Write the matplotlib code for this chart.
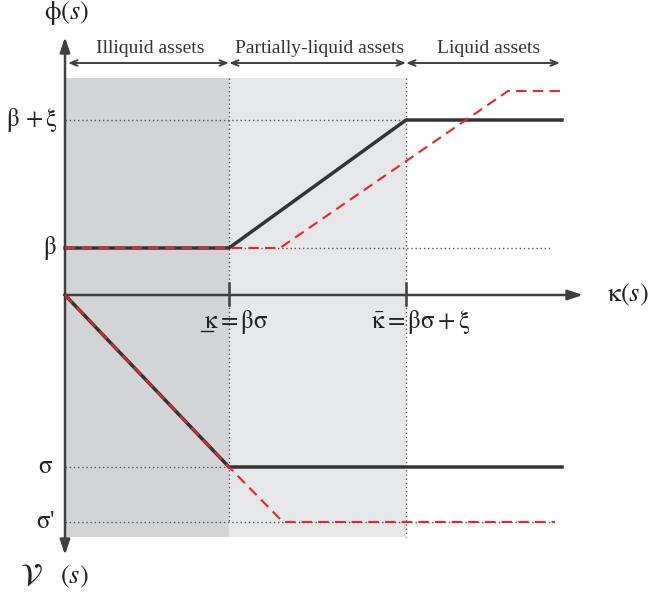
import matplotlib
matplotlib.use("Agg")
import matplotlib.pyplot as plt
from matplotlib.patches import Rectangle

plt.rcParams['font.family'] = ['Liberation Serif', 'DejaVu Serif']
plt.rcParams['mathtext.fontset'] = 'stix'

# Conceptual values (kappa on x, phi / V on y)
kappa_low = 1.64          # underline kappa = beta*sigma
kappa_high = 3.41         # overline kappa = beta*sigma + xi
x_end = 4.97
beta = 0.47
beta_xi = 1.75
sigma = -1.72
sigma_p = -2.27

# black (baseline) curves
phi_black_x = [0.0, kappa_low, kappa_high, x_end]
phi_black_y = [beta, beta, beta_xi, beta_xi]
v_black_x = [0.0, kappa_low, x_end]
v_black_y = [0.0, sigma, sigma]

# red (shifted) curves
phi_red_x = [0.0, 2.15, 4.43, 5.00]
phi_red_y = [beta, beta, 2.04, 2.04]
v_red_x = [0.0, kappa_low, 2.18, 4.90]
v_red_y = [0.0, sigma, sigma_p, sigma_p]

region_labels = ["Illiquid assets", "Partially-liquid assets", "Liquid assets"]

fig = plt.figure(figsize=(6.54, 5.95), dpi=100)
ax = fig.add_axes([0, 0, 1, 1])
ax.set_xlim(-0.65, 5.89)
ax.set_ylim(-3.00, 2.95)
ax.axis('off')

top, bot = 2.17, -2.42
ax.add_patch(Rectangle((0, bot), kappa_low, top - bot, color='#d3d4d6', lw=0, zorder=0))
ax.add_patch(Rectangle((kappa_low, bot), kappa_high - kappa_low, top - bot, color='#e6e7e9', lw=0, zorder=0))

dot = dict(color='#555555', lw=1.0, ls=(0, (1, 2)), zorder=1)
ax.plot([kappa_low, kappa_low], [top, sigma_p], **dot)
ax.plot([kappa_high, kappa_high], [top, bot], **dot)
ax.plot([0, x_end], [beta_xi, beta_xi], **dot)
ax.plot([0, 4.87], [beta, beta], **dot)
ax.plot([0, kappa_low], [sigma, sigma], **dot)
ax.plot([0, 4.90], [sigma_p, sigma_p], **dot)

axc = '#404040'
arrow = dict(arrowstyle='-|>,head_length=0.9,head_width=0.3', color=axc, lw=1.8, shrinkA=0, shrinkB=0)
ax.annotate('', xy=(5.18, 0), xytext=(0, 0), arrowprops=arrow, zorder=3)
ax.annotate('', xy=(0, 2.58), xytext=(0, 0), arrowprops=arrow, zorder=3)
ax.annotate('', xy=(0, -2.60), xytext=(0, 0), arrowprops=arrow, zorder=3)
for k in (kappa_low, kappa_high):
    ax.plot([k, k], [0.12, -0.10], color=axc, lw=1.8, zorder=3)

ax.plot(phi_black_x, phi_black_y, color='#333333', lw=2.5, zorder=4)
ax.plot(v_black_x, v_black_y, color='#333333', lw=2.5, zorder=4)
ax.plot(phi_red_x, phi_red_y, color='#e8262b', lw=1.5, ls=(0, (5, 3)), zorder=5)
ax.plot(v_red_x, v_red_y, color='#e8262b', lw=1.5, ls=(0, (5, 3)), zorder=5)

# region arrows
ya = 2.32
bounds = [(0.03, kappa_low), (kappa_low, kappa_high), (kappa_high, 4.95)]
offs = [0.02, 0.02, 0.06]
for (a, b), lab, o in zip(bounds, region_labels, offs):
    ax.annotate('', xy=(a, ya), xytext=(b, ya),
                arrowprops=dict(arrowstyle='<->,head_length=0.5,head_width=0.2', color=axc, lw=1.4,
                                shrinkA=0, shrinkB=0))
    ax.text((a + b) / 2 + o, ya + 0.06, lab, ha='center', va='bottom', fontsize=14, color='#333333')

tc = '#222222'
ax.text(-0.21, 2.82, r'$\mathrm{\phi}(s)$', fontsize=19, ha='left', va='center', color=tc)
ax.text(-0.07, beta_xi, r'$\mathrm{\beta}\,+\mathrm{\xi}$', fontsize=18, ha='right', va='center', color=tc)
ax.text(-0.08, beta, r'$\mathrm{\beta}$', fontsize=18, ha='right', va='center', color=tc)
ax.text(-0.12, sigma, r'$\mathrm{\sigma}$', fontsize=18, ha='right', va='center', color=tc)
ax.text(-0.10, sigma_p, r"$\mathrm{\sigma}$'", fontsize=18, ha='right', va='center', color=tc)
ax.text(5.42, 0.0, r'$\mathrm{\kappa}(s)$', fontsize=19, ha='left', va='center', color=tc)
ax.text(-0.45, -2.82, r'$\mathcal{V}$', fontsize=22, ha='left', va='center', color=tc)
ax.text(-0.05, -2.82, r'$(s)$', fontsize=19, ha='left', va='center', color=tc)
ax.text(kappa_low + 0.07, -0.27, r'$\mathrm{\kappa}=\mathrm{\beta\sigma}$', fontsize=18,
        ha='center', va='center', color=tc)
ax.plot([1.36, 1.48], [-0.355, -0.355], color=tc, lw=1.0)
ax.text(kappa_high + 0.15, -0.27, r'$\bar{\mathrm{\kappa}}=\mathrm{\beta\sigma}+\mathrm{\xi}$', fontsize=18,
        ha='center', va='center', color=tc)

fig.savefig('out.png', dpi=100)
